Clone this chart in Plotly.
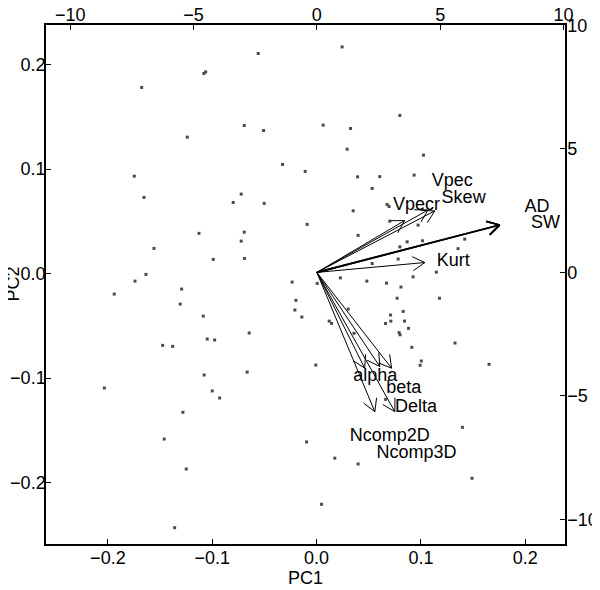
import math
import plotly.graph_objects as go

# Scores (PC1, PC2)
pc1 = [-0.0559, -0.1063, -0.1080, -0.1676, -0.0693, -0.0508, -0.1239, -0.0326, -0.0109, -0.1747,
       -0.0722, -0.0799, -0.0502, -0.1654, -0.0090, -0.1127, -0.0693, -0.0722, -0.1558, -0.0990,
       -0.0690, -0.1635, -0.1740, -0.1939, -0.1293, -0.1307, -0.1086, -0.1475, -0.1379, -0.1048,
       -0.0977, -0.0646, -0.2034, -0.1077, -0.0665, -0.1000, -0.0929, -0.1281, -0.1460, -0.0096,
       -0.1249, -0.1360, -0.0234, -0.0198, -0.0208, -0.0141, -0.0007, 0.0006, 0.0245, 0.0798,
       0.0063, 0.0326, 0.0293, 0.1025, 0.0393, 0.0606, 0.0935, 0.0533, 0.0351, 0.0676,
       0.0695, 0.0702, 0.0973, 0.0398, 0.0798, 0.0868, 0.1015, 0.1420, 0.1356, 0.0782,
       0.0533, 0.0228, 0.0482, 0.0670, 0.0925, 0.1148, 0.0809, 0.0772, 0.1178, 0.0303,
       0.0830, 0.0709, 0.0121, 0.0144, 0.0661, 0.0712, 0.0843, 0.0881, 0.0791, 0.0800,
       0.0359, 0.1327, 0.0913, 0.1004, 0.0992, 0.1653, 0.0662, 0.1398, 0.0175, 0.0398,
       0.1490, 0.0048]
pc2 = [0.2107, 0.1931, 0.1916, 0.1782, 0.1418, 0.1370, 0.1306, 0.1045, 0.0978, 0.0933,
       0.0761, 0.0681, 0.0672, 0.0729, 0.0471, 0.0385, 0.0397, 0.0311, 0.0241, 0.0136,
       0.0145, -0.0008, -0.0072, -0.0196, -0.0148, -0.0292, -0.0407, -0.0687, -0.0697, -0.0627,
       -0.0636, -0.0569, -0.1096, -0.0971, -0.0943, -0.1124, -0.1191, -0.1328, -0.1584, -0.1612,
       -0.1871, -0.2433, -0.0081, -0.0256, -0.0349, -0.0416, -0.0876, -0.0094, 0.2170, 0.1514,
       0.1421, 0.1389, 0.1191, 0.1134, 0.0926, 0.0928, 0.0943, 0.0815, 0.0601, 0.0662,
       0.0643, 0.0502, 0.0464, 0.0366, 0.0256, 0.0304, 0.0314, 0.0330, 0.0239, 0.0139,
       0.0096, -0.0041, -0.0072, -0.0091, -0.0031, 0.0014, -0.0129, -0.0236, -0.0236, -0.0340,
       -0.0362, -0.0397, -0.0455, -0.0477, -0.0478, -0.0455, -0.0455, -0.0524, -0.0565, -0.0586,
       -0.0572, -0.0665, -0.0706, -0.0837, -0.0878, -0.0869, -0.1204, -0.1472, -0.1767, -0.1823,
       -0.1960, -0.2209]

# Variable loadings (top/right axis units)
var_names = ["AD", "SW", "Kurt", "Vpecr", "Vpec", "Skew", "alpha", "beta", "Delta", "Ncomp2D", "Ncomp3D"]
arrow_u = [7.41, 7.41, 4.38, 3.56, 4.51, 4.78, 1.94, 2.55, 3.03, 2.35, 3.16]
arrow_v = [1.92, 1.92, 0.40, 2.10, 2.53, 2.49, -3.88, -3.81, -3.88, -5.64, -5.64]
label_u = [8.93, 9.27, 5.53, 4.04, 5.49, 5.95, 2.37, 3.52, 4.02, 2.96, 4.04]
label_v = [2.62, 1.99, 0.44, 2.73, 3.68, 2.99, -4.22, -4.69, -5.46, -6.66, -7.32]

x_range = [-0.2593, 0.2381]
y_range = [-0.2589, 0.2380]
u_range = [-10.98, 10.06]
v_range = [-11.00, 10.02]

# page body has an 8px margin, so the figure is offset by 8px
W, H = 600, 590
ML, MT = 38, 17
PW, PH = 519.3, 519.2
MR = W - ML - PW
MB = H - MT - PH
upx = PW / (u_range[1] - u_range[0])
vpx = PH / (v_range[1] - v_range[0])

FONT = "Liberation Sans, Arial, Helvetica, sans-serif"
fig = go.Figure()

fig.add_trace(go.Scatter(x=pc1, y=pc2, mode="markers",
                         marker=dict(symbol="square", size=3, color="#4a4a4a", line=dict(width=0)),
                         hoverinfo="skip", showlegend=False))

# arrows: shaft + open V head, computed in pixel space then mapped back to axis units
head_len = 14.0
for i, name in enumerate(var_names):
    u, v = arrow_u[i], arrow_v[i]
    px, py = u * upx, v * vpx
    ang = math.atan2(py, px)
    xs = [0, u, None]
    ys = [0, v, None]
    for s in (1, -1):
        a = ang + math.pi - s * math.radians(30)
        bx = px + head_len * math.cos(a)
        by = py + head_len * math.sin(a)
        xs += [u, bx / upx, None]
        ys += [v, by / vpx, None]
    lw = 1.8 if name in ("AD", "SW") else 1.0
    fig.add_trace(go.Scatter(x=xs, y=ys, xaxis="x2", yaxis="y2", mode="lines",
                             line=dict(color="black", width=lw), hoverinfo="skip", showlegend=False))

fig.add_trace(go.Scatter(x=label_u, y=label_v, xaxis="x2", yaxis="y2", mode="text",
                         text=var_names, textposition="middle center",
                         textfont=dict(family=FONT, size=18, color="black"),
                         hoverinfo="skip", showlegend=False))

axis_common = dict(showgrid=False, zeroline=False, showline=True, linecolor="black", linewidth=1.5,
                   ticks="inside", ticklen=5, tickwidth=1.2, tickcolor="black", automargin=False,
                   tickfont=dict(family=FONT, size=18, color="black"))

fig.update_layout(
    width=W, height=H,
    margin=dict(l=ML, r=MR, t=MT, b=MB, autoexpand=False),
    paper_bgcolor="white", plot_bgcolor="white",
    xaxis=dict(range=x_range, tickvals=[-0.2, -0.1, 0.0, 0.1, 0.2],
               ticktext=["\u22120.2", "\u22120.1", "0.0", "0.1", "0.2"],
               ticklabelstandoff=-3, **axis_common),
    yaxis=dict(range=y_range, tickvals=[-0.2, -0.1, 0.0, 0.1, 0.2],
               ticktext=["\u22120.2", "\u22120.1", "0.0", "0.1", "0.2"],
               ticklabelstandoff=-5, **axis_common),
    xaxis2=dict(range=u_range, overlaying="x", side="top", tickvals=[-10, -5, 0, 5, 10],
                ticktext=["\u221210", "\u22125", "0", "5", "10"], ticklabelstandoff=-5, **axis_common),
    yaxis2=dict(range=v_range, overlaying="y", side="right", tickvals=[-10, -5, 0, 5, 10],
                ticktext=["\u221210", "\u22125", "0", "5", "10"], ticklabelstandoff=-3, **axis_common),
    annotations=[
        dict(text="PC1", xref="paper", yref="paper", x=0.5, y=0, yshift=-34,
             xanchor="center", yanchor="middle", showarrow=False,
             font=dict(family=FONT, size=18, color="black")),
        dict(text="PC2", xref="paper", yref="paper", x=0, y=0.5, xshift=-34,
             xanchor="center", yanchor="middle", textangle=-90, showarrow=False,
             font=dict(family=FONT, size=18, color="black")),
    ],
)

fig.write_html("out.html")
